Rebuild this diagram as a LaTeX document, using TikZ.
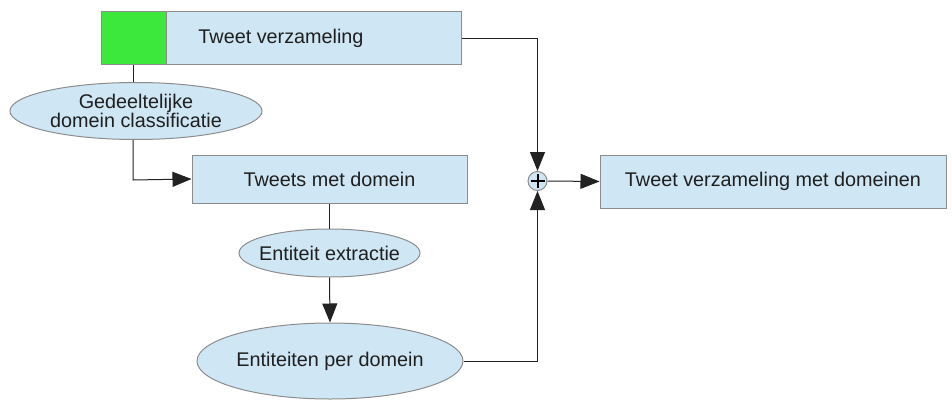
\documentclass[tikz,border=0pt]{standalone}
\usepackage{fontspec}
\setmainfont{Liberation Sans}
\usetikzlibrary{arrows.meta,shapes.geometric}
\definecolor{boxblue}{HTML}{CFE6F4}
\definecolor{boxgray}{HTML}{8C8C8C}
\definecolor{tgreen}{HTML}{3DE83D}
\definecolor{linec}{HTML}{222222}
\tikzset{
  box/.style={draw=boxgray, line width=1pt, fill=boxblue, rectangle, inner sep=0pt, font=\fontsize{19.8}{22}\selectfont, text=black!88},
  proc/.style={draw=boxgray, line width=1pt, fill=boxblue, ellipse, inner sep=0pt, font=\fontsize{19.8}{22}\selectfont, text=black!88, align=center},
  conn/.style={draw=linec, line width=1pt},
  arr/.style={conn, -{Triangle[length=19pt,width=15pt]}},
}
\begin{document}
\begin{tikzpicture}[x=1pt,y=-1pt]
\useasboundingbox (0,0) rectangle (952,401);
% top box
\node[box, minimum width=360pt, minimum height=53pt] (tv) at (281,38.5) {Tweet verzameling};
\node[draw=boxgray, line width=1pt, fill=tgreen, minimum width=65pt, minimum height=53pt, inner sep=0pt] (gr) at (133.5,38.5) {};
% ellipse 1
\node[proc, minimum width=252pt, minimum height=57pt] (gd) at (136,111) {Gedeeltelijke\\[-3pt]domein classificatie};
% box 2
\node[box, minimum width=275pt, minimum height=48pt] (tmd) at (329.5,179) {Tweets met domein};
% ellipse 2
\node[proc, minimum width=181pt, minimum height=48pt, inner xsep=-30pt] (ee) at (329.5,253) {Entiteit extractie};
% ellipse 3
\node[proc, minimum width=266pt, minimum height=76pt] (epd) at (330,361) {Entiteiten per domein};
% plus circle
\node[circle, draw=boxgray, line width=1pt, fill=boxblue, minimum size=19pt, inner sep=0pt] (plus) at (537.5,181) {};
\draw[line width=2pt, black] (plus.center) ++(-7,0) -- ++(14,0);
\draw[line width=2pt, black] (plus.center) ++(0,-7) -- ++(0,14);
% result box
\node[box, minimum width=346pt, minimum height=53pt] (res) at (773,181.5) {Tweet verzameling met domeinen};
% connectors
\coordinate (c1) at (133,180);
\draw[conn] (gr.south) -- (gd.north -| gr.south);
\draw[arr] (gd.south -| c1) -- (c1) -- (tmd.west);
\draw[conn] (tmd.south) -- (ee.north);
\draw[arr] (ee.south) -- (epd.north);
\draw[arr] (tv.east) -| (plus.north);
\draw[arr] (epd.east) -| (plus.south);
\draw[arr] (plus.east) -- (res.west);
\end{tikzpicture}
\end{document}
